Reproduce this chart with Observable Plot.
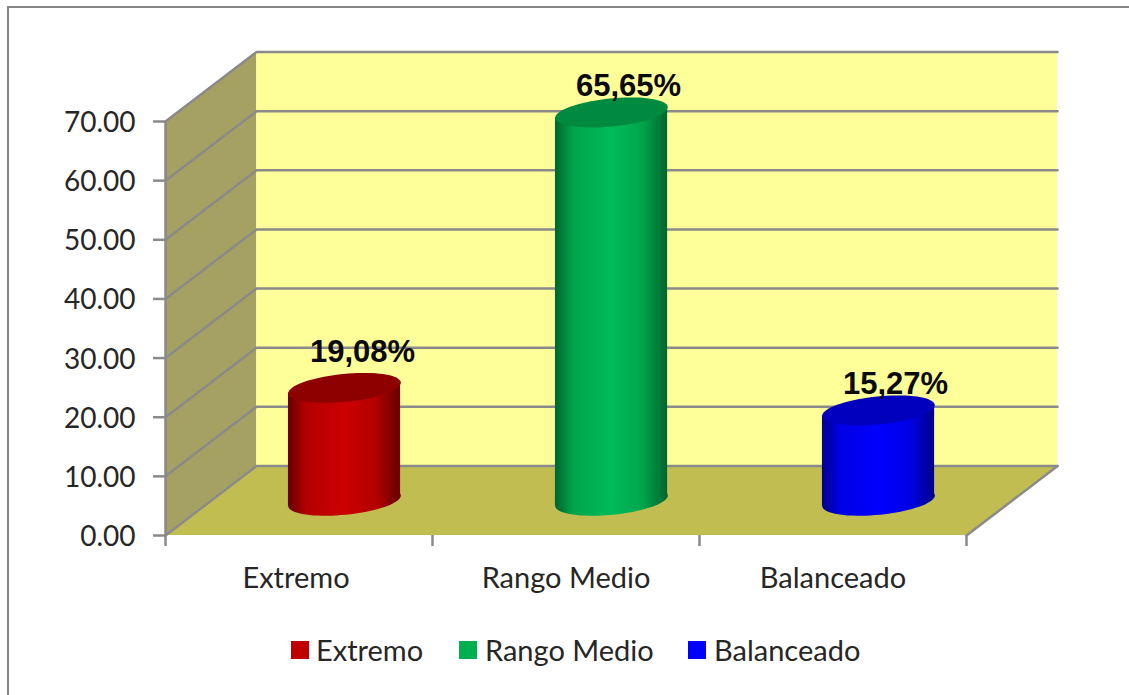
<!DOCTYPE html>
<html>
<head>
<meta charset="utf-8">
<script src="https://cdn.jsdelivr.net/npm/d3@7"></script>
<script src="https://cdn.jsdelivr.net/npm/@observablehq/plot@0.6"></script>
<style>
  html, body { margin: 0; padding: 0; background: #fff; overflow: hidden; }
  body { position: relative; width: 1129px; height: 695px; }
  #frame { position: absolute; left: 7px; top: 6px; width: 1200px; height: 800px; border-top: 2.5px solid #868686; border-left: 2.5px solid #868686; box-sizing: border-box; }
  #chart { position: absolute; left: 0; top: 0; }
  #chart svg { display: block; background: transparent; }
  #legend { position: absolute; top: 630px; left: 0; width: 1129px; height: 40px; font: 29px Lato, sans-serif; color: #262626; }
  #legend span.sw { position: absolute; top: 11px; width: 17.5px; height: 18px; }
  #legend span.lb { position: absolute; top: 2px; white-space: nowrap; }
</style>
</head>
<body>
<div id="frame"></div>
<div id="chart"></div>
<div id="legend"></div>
<script>
const categories = ["Extremo", "Rango Medio", "Balanceado"];
const values = [19.08, 65.65, 15.27];
const labels = ["19,08%", "65,65%", "15,27%"];
const yTicks = [0, 10, 20, 30, 40, 50, 60, 70];

// Depth of the oblique 3D box, in data units of each axis.
const depthX = 0.341, depthY = 11.75;
const halfBar = 0.21, tilt = 0.91;
const palette = [
  {id: "gRed",   edge: "#650000", mid: "#b40000", core: "#cc0000", top: "#8e0000", swatch: "#c00000"},
  {id: "gGreen", edge: "#00652e", mid: "#00a54b", core: "#00bb58", top: "#008a40", swatch: "#00b050"},
  {id: "gBlue",  edge: "#00008a", mid: "#0000e6", core: "#0000ff", top: "#0000bd", swatch: "#0000ff"}
];
const stroke = "#8a8a8a";

const rows = categories.map((c, i) => ({
  c, v: values[i], label: labels[i], cx: i + 0.5 + depthX / 2, p: palette[i]
}));
const floorMid = depthY / 2;

// Tilted ellipse used for the cylinder caps.
const cap = {
  draw(ctx) {
    const a = 56.5, b = 14, t = -5.7 * Math.PI / 180;
    for (let k = 0; k < 72; k++) {
      const u = k / 72 * 2 * Math.PI;
      const ex = a * Math.cos(u), ey = b * Math.sin(u);
      const px = ex * Math.cos(t) - ey * Math.sin(t);
      const py = ex * Math.sin(t) + ey * Math.cos(t);
      k ? ctx.lineTo(px, py) : ctx.moveTo(px, py);
    }
    ctx.closePath();
  }
};

const defsMark = () => {
  const defs = d3.create("svg:defs");
  palette.forEach(p => {
    const g = defs.append("linearGradient").attr("id", p.id).attr("x1", 0).attr("x2", 1).attr("y1", 0).attr("y2", 0);
    [[0, p.edge], [0.16, p.mid], [0.5, p.core], [0.78, p.mid], [1, p.edge]].forEach(([o, c]) =>
      g.append("stop").attr("offset", o).attr("stop-color", c));
  });
  return defs.node();
};

const sideWall = [{x: 0, y1: 0, y2: 70}, {x: depthX, y1: depthY, y2: 70 + depthY}];
const backWall = [{x: depthX, y1: depthY, y2: 70 + depthY}, {x: 3 + depthX, y1: depthY, y2: 70 + depthY}];
const floor = [{y: 0, x1: 0, x2: 3}, {y: depthY, x1: depthX, x2: 3 + depthX}];
const gridLines = yTicks.flatMap(t => [
  {z: t, x: 0, y: t}, {z: t, x: depthX, y: t + depthY}, {z: t, x: 3 + depthX, y: t + depthY}
]);
const floorEdge = [{x: 3, y: 0}, {x: 3 + depthX, y: depthY}];

const barMarks = rows.flatMap(r => [
  Plot.dot([r], {x: "cx", y: () => floorMid, symbol: cap, fill: `url(#${r.p.id})`}),
  Plot.areaY([
    {x: r.cx - halfBar, y1: floorMid - tilt, y2: r.v + floorMid - tilt},
    {x: r.cx + halfBar, y1: floorMid + tilt, y2: r.v + floorMid + tilt}
  ], {x: "x", y1: "y1", y2: "y2", fill: `url(#${r.p.id})`}),
  Plot.dot([r], {x: "cx", y: d => d.v + floorMid, symbol: cap, fill: r.p.top})
]);

const labelFont = {fontFamily: "'Liberation Sans', Arial, sans-serif", fontWeight: "bold", fontSize: 31, fill: "#0a0a0a"};
const catAxis = {
  tickFormat: d => categories[Math.floor(d)], tickSize: 0, tickPadding: 32, label: null,
  fontFamily: "Lato, sans-serif", fontSize: 29, fill: "#262626"
};

const plot = Plot.plot({
  width: 1129,
  height: 625,
  marginLeft: 165,
  marginRight: 163,
  marginTop: 121,
  marginBottom: 90,
  style: {background: "transparent", overflow: "visible"},
  x: {domain: [0, 3], range: [165, 966]},
  y: {domain: [0, 70], range: [535, 121]},
  marks: [
    defsMark,
    Plot.areaY(backWall, {x: "x", y1: "y1", y2: "y2", fill: "#ffff99"}),
    Plot.areaY(sideWall, {x: "x", y1: "y1", y2: "y2", fill: "#a5a162"}),
    Plot.areaX(floor, {y: "y", x1: "x1", x2: "x2", fill: "#c1bd50"}),
    Plot.line(gridLines, {x: "x", y: "y", z: "z", stroke, strokeWidth: 2.5}),
    Plot.line(floorEdge, {x: "x", y: "y", stroke, strokeWidth: 2.5}),
    Plot.ruleX([0], {y1: 0, y2: 70, stroke, strokeWidth: 2.5}),
    Plot.axisY({
      ticks: yTicks, tickFormat: () => "", tickSize: 12,
      stroke, strokeWidth: 2.5, strokeOpacity: 1, label: null
    }),
    Plot.axisY({
      ticks: yTicks, tickFormat: d3.format(".2f"), tickSize: 0, tickPadding: 30, dy: 1.5,
      label: null, fontFamily: "Lato, sans-serif", fontSize: 28, fill: "#262626"
    }),
    Plot.axisX({
      ticks: [0, 1, 2, 3], tickFormat: () => "", tickSize: 11,
      stroke, strokeWidth: 2.5, strokeOpacity: 1, label: null
    }),
    Plot.axisX({ticks: [0.5], dx: -3, ...catAxis}),
    Plot.axisX({ticks: [1.5, 2.5], ...catAxis}),
    ...barMarks,
    Plot.text(rows.filter(r => r.c === "Extremo"), {
      x: "cx", y: d => d.v + floorMid, text: "label", dx: 18, dy: -36, ...labelFont
    }),
    Plot.text(rows.filter(r => r.c !== "Extremo"), {
      x: "cx", y: d => d.v + floorMid, text: "label", dx: 17, dy: -26, ...labelFont
    })
  ]
});
document.getElementById("chart").append(plot);

// Legend below the plot
const legendX = [[291, 316], [459, 485], [688, 714]];
const legend = d3.select("#legend");
rows.forEach((r, i) => {
  legend.append("span").attr("class", "sw").style("left", legendX[i][0] + "px").style("background", r.p.swatch);
  legend.append("span").attr("class", "lb").style("left", legendX[i][1] + "px").text(r.c);
});
</script>
</body>
</html>
